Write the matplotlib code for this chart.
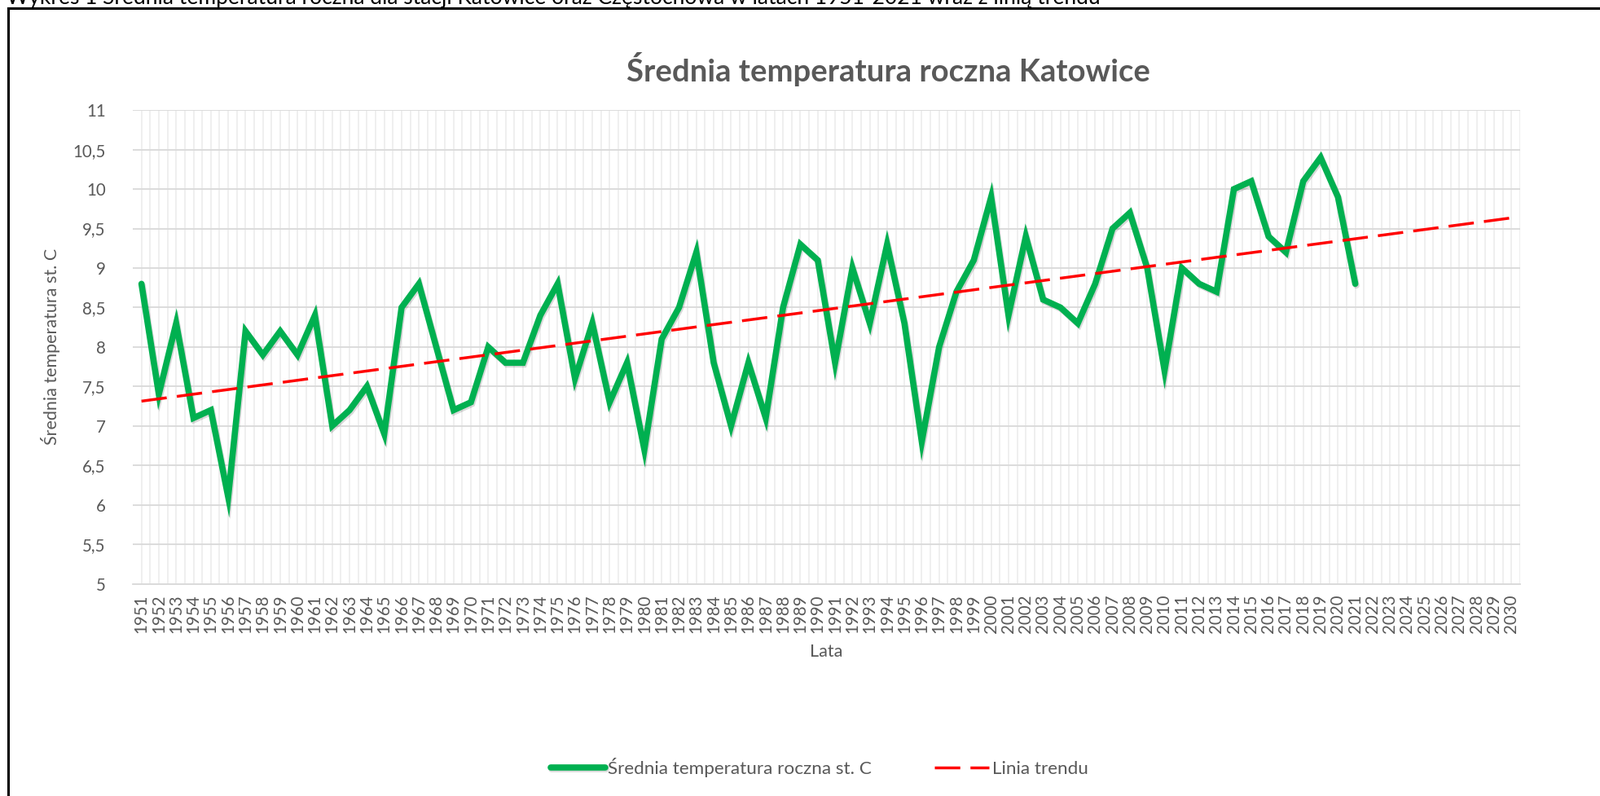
import numpy as np
import matplotlib.pyplot as plt
import matplotlib.patheffects as pe
from matplotlib.lines import Line2D

plt.rcParams['font.family'] = ['Lato', 'DejaVu Sans']

# dane - srednia temperatura roczna Katowice
lata = list(range(1951, 2022))
temp = [8.8, 7.4, 8.3, 7.1, 7.2, 6.1, 8.2, 7.9, 8.2, 7.9,
        8.4, 7.0, 7.2, 7.5, 6.9, 8.5, 8.8, 8.0, 7.2, 7.3,
        8.0, 7.8, 7.8, 8.4, 8.8, 7.6, 8.3, 7.3, 7.8, 6.7,
        8.1, 8.5, 9.2, 7.8, 7.0, 7.8, 7.1, 8.5, 9.3, 9.1,
        7.8, 9.0, 8.3, 9.3, 8.3, 6.8, 8.0, 8.7, 9.1, 9.9,
        8.4, 9.4, 8.6, 8.5, 8.3, 8.8, 9.5, 9.7, 9.0, 7.7,
        9.0, 8.8, 8.7, 10.0, 10.1, 9.4, 9.2, 10.1, 10.4, 9.9,
        8.8]
lata_os = list(range(1951, 2031))
y_ticks = [5, 5.5, 6, 6.5, 7, 7.5, 8, 8.5, 9, 9.5, 10, 10.5, 11]

# linia trendu (liniowa) przedluzona do 2030
a, b = np.polyfit(lata, temp, 1)
trend = [a * r + b for r in lata_os]

fig = plt.figure(figsize=(19.64, 9.77), dpi=100)
ax = fig.add_axes([0.083, 0.2666, 0.867, 0.595])

szary = '#595959'

# siatka
for y in y_ticks:
    ax.axhline(y, color='#d9d9d9', lw=1.3, zorder=1)
for r in lata_os:
    ax.axvline(r, color='#ececec', lw=1.2, zorder=0)
    ax.axvline(r + 0.5, color='#ececec', lw=1.2, zorder=0)

ax.plot(lata, temp, color='#00B050', lw=5.5, solid_joinstyle='miter',
        solid_capstyle='round', zorder=3,
        path_effects=[pe.SimpleLineShadow(offset=(1, -1.5), alpha=0.15), pe.Normal()],
        label='Średnia temperatura roczna st. C')
ax.plot(lata_os, trend, color='#FF0000', lw=2.5, dashes=(9, 3.6), zorder=4,
        label='Linia trendu')

ax.set_xlim(1950.5, 2030.5)
ax.set_ylim(5, 11)
ax.set_yticks(y_ticks)
ax.set_yticklabels([str(v).replace('.', ',').replace(',0', '') for v in y_ticks])
ax.set_xticks(lata_os)
ax.set_xticklabels([str(r) for r in lata_os], rotation=90)
ax.tick_params(axis='both', length=0, labelsize=14.8, labelcolor=szary)
ax.tick_params(axis='y', pad=24)
ax.tick_params(axis='x', pad=9)

for s in ['top', 'right', 'left']:
    ax.spines[s].set_visible(False)
ax.spines['bottom'].set_color('#d9d9d9')
ax.spines['bottom'].set_linewidth(1.3)

ax.set_xlabel('Lata', fontsize=15.5, color=szary, labelpad=10)
ax.set_ylabel('Średnia temperatura st. C', fontsize=15.5, color=szary, labelpad=11)

fig.text(0.555, 1 - 85 / 977, 'Średnia temperatura roczna Katowice', ha='center', va='center',
         fontsize=27.5, fontweight='bold', color=szary)

fig.legend(loc='center', bbox_to_anchor=(0.512, 1 - 942 / 977), ncol=2, frameon=False,
           fontsize=16.2, labelcolor=szary, handlelength=3.0, handletextpad=0.15,
           columnspacing=3.4)

# podpis nad wykresem (uciety u gory)
fig.text(8 / 1964, 1 - 5 / 977,
         'Wykres 1 Średnia temperatura roczna dla stacji Katowice oraz Częstochowa w latach 1951-2021 wraz z linią trendu',
         ha='left', va='baseline', fontsize=19, color='black')

# ramka
fig.add_artist(Line2D([10 / 1964, 1], [1 - 10 / 977, 1 - 10 / 977], color='black', lw=2.2))
fig.add_artist(Line2D([10 / 1964, 10 / 1964], [0, 1 - 10 / 977], color='black', lw=2.2))

fig.savefig('out.png', dpi=100)
